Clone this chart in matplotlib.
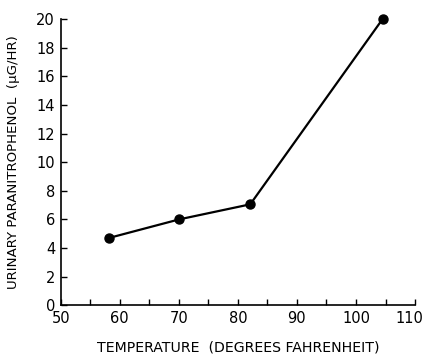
import matplotlib
matplotlib.use("Agg")
import matplotlib.pyplot as plt
import matplotlib.transforms as mtransforms

temperature = [58.2, 70.1, 82.1, 104.5]
paranitrophenol = [4.7, 6.0, 7.05, 20.0]
x_ticks = [50, 55, 60, 65, 70, 75, 80, 85, 90, 95, 100, 105, 110]
x_tick_labels = ["50", "", "60", "", "70", "", "80", "", "90", "", "100", "", "110"]
y_ticks = [0, 2, 4, 6, 8, 10, 12, 14, 16, 18, 20]

fig = plt.figure(figsize=(4.27, 3.54), dpi=100)
ax = fig.add_axes([0.142, 0.138, 0.83, 0.808])
ax.plot(temperature, paranitrophenol, color="black", lw=1.6, marker="o", ms=6.5, clip_on=False)
ax.set_xlim(50, 110)
ax.set_ylim(0, 20)
ax.spines["top"].set_visible(False)
ax.spines["right"].set_visible(False)
for s in ("left", "bottom"):
    ax.spines[s].set_linewidth(1.2)
ax.set_xticks(x_ticks)
ax.set_xticklabels(x_tick_labels)
ax.set_yticks(y_ticks)
ax.tick_params(direction="in", length=4.5, width=1.0, labelsize=10.5)
ax.tick_params(axis="y", pad=4)
ax.tick_params(axis="x", pad=4)
last = ax.get_xticklabels()[-1]
last.set_transform(last.get_transform() + mtransforms.ScaledTranslation(-6 / 100, 0, fig.dpi_scale_trans))
ax.set_xlabel("TEMPERATURE  (DEGREES FAHRENHEIT)", fontsize=10.2, labelpad=11)
ax.set_ylabel("URINARY PARANITROPHENOL  (\u00b5G/HR)", fontsize=9.6, labelpad=12)
fig.savefig("out.png", dpi=100)
